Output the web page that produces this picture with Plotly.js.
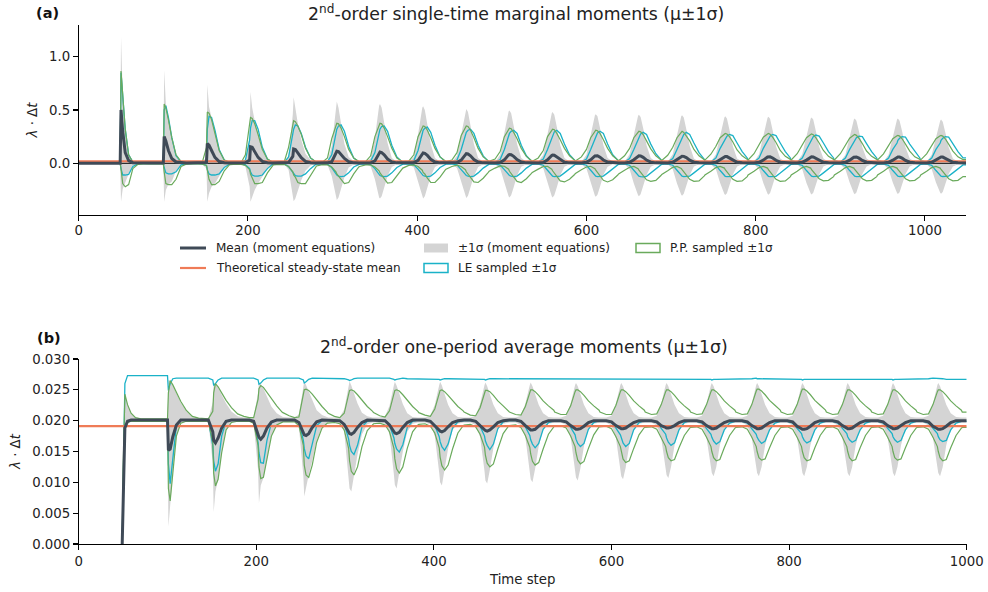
<!DOCTYPE html>
<html><head><meta charset="utf-8">
<script src="https://cdn.plot.ly/plotly-3.0.1.min.js"></script>
<style>html,body{margin:0;padding:0;background:#fff}#chart{width:988px;height:592px}</style>
</head><body><div id="chart"></div>
<script>
// ---------------- data ----------------
// stimulus onsets (time steps) and the sample offsets (steps) around each onset
const onsets = [50,101,152,203,254,305,356,407,458,509,560,611,662,713,764,815,866,917,968,1019];
const offsets = [-24,-17,-11,-6,-1,0,2,5,9,14,20,26];
const steadyStateMean = 0.0191;
const xTicks = [0,200,400,600,800,1000];
const aYTicks = [0,0.5,1.0];
const aYTickText = ['0.0','0.5','1.0'];
const bYTicks = [0,0.005,0.01,0.015,0.02,0.025,0.03];
const bYTickText = ['0.000','0.005','0.010','0.015','0.020','0.025','0.030'];

// ---- panel (a): single-time marginal moments, one row per pulse ----
const aMean = [
[0,0,0,0,0,.50,.30,.10,.025,.006,.003,.003],
[.003,.003,.003,.003,.003,.25,.21,.12,.045,.012,.004,.003],
[.003,.003,.003,.003,.008,.185,.17,.12,.055,.016,.005,.003],
[.003,.003,.003,.004,.03,.155,.15,.11,.055,.018,.005,.003],
[.003,.003,.003,.007,.065,.135,.13,.10,.052,.018,.005,.003],
[.003,.003,.004,.014,.09,.113,.11,.085,.045,.015,.004,.003],
[.003,.003,.005,.022,.094,.105,.10,.08,.04,.013,.004,.003],
[.003,.003,.006,.027,.09,.097,.093,.074,.038,.012,.004,.003],
[.003,.003,.007,.03,.085,.09,.087,.07,.036,.012,.004,.003],
[.003,.003,.008,.032,.079,.083,.081,.065,.034,.012,.004,.003],
[.003,.003,.008,.033,.073,.077,.075,.06,.032,.011,.004,.003],
[.003,.003,.009,.033,.069,.072,.071,.057,.031,.011,.004,.003],
[.003,.003,.009,.033,.067,.07,.069,.056,.03,.011,.004,.003],
[.003,.003,.009,.032,.063,.066,.065,.053,.029,.01,.004,.003],
[.003,.003,.009,.031,.061,.064,.063,.051,.028,.01,.004,.003],
[.003,.003,.009,.03,.059,.062,.061,.05,.028,.01,.004,.003],
[.003,.003,.009,.03,.058,.061,.06,.049,.027,.01,.004,.003],
[.003,.003,.009,.029,.057,.06,.059,.048,.027,.01,.004,.003],
[.003,.003,.009,.029,.056,.059,.058,.048,.027,.01,.004,.003],
[.003,.003,.009,.029,.056,.059,.058,.047,.026,.01,.004,.003]];
const aSigmaUp = [
[0,0,0,0,0,1.19,.66,.33,.09,.02,.01,.01],
[.01,.01,.01,.01,.01,.875,.56,.42,.24,.08,.02,.01],
[.01,.01,.01,.01,.06,.74,.53,.42,.28,.12,.035,.012],
[.012,.01,.01,.02,.25,.67,.52,.40,.27,.12,.04,.012],
[.012,.01,.012,.06,.46,.62,.50,.37,.22,.09,.03,.012],
[.012,.01,.02,.16,.54,.58,.52,.36,.18,.06,.02,.01],
[.01,.012,.05,.24,.54,.555,.52,.38,.19,.05,.015,.01],
[.01,.012,.06,.27,.52,.535,.50,.37,.18,.05,.015,.01],
[.01,.012,.07,.28,.50,.51,.48,.36,.18,.05,.015,.01],
[.01,.013,.08,.29,.485,.495,.47,.35,.18,.05,.015,.01],
[.01,.014,.08,.29,.47,.48,.455,.34,.17,.05,.015,.01],
[.01,.014,.08,.28,.45,.46,.44,.33,.17,.05,.015,.01],
[.01,.015,.085,.28,.445,.455,.435,.33,.17,.05,.015,.01],
[.01,.015,.085,.28,.44,.45,.43,.32,.165,.045,.015,.01],
[.01,.015,.085,.27,.43,.44,.42,.315,.16,.045,.015,.01],
[.01,.015,.085,.27,.427,.437,.417,.31,.16,.045,.015,.01],
[.01,.015,.085,.265,.42,.43,.41,.305,.155,.045,.015,.01],
[.01,.015,.08,.26,.41,.42,.40,.30,.15,.045,.015,.01],
[.01,.015,.08,.26,.41,.42,.40,.30,.15,.045,.015,.01],
[.01,.015,.08,.255,.40,.41,.39,.29,.15,.045,.015,.01]];
const aSigmaLo = [
[0,0,0,0,0,-.36,-.24,-.18,-.1,-.025,-.01,-.01],
[-.01,-.01,-.01,-.01,-.01,-.36,-.25,-.2,-.17,-.07,-.015,-.01],
[-.01,-.01,-.01,-.01,-.05,-.36,-.28,-.22,-.19,-.12,-.04,-.01],
[-.01,-.01,-.01,-.03,-.22,-.36,-.32,-.25,-.19,-.12,-.05,-.012],
[-.012,-.01,-.01,-.06,-.31,-.355,-.33,-.25,-.16,-.07,-.02,-.01],
[-.01,-.01,-.015,-.12,-.33,-.344,-.32,-.24,-.13,-.04,-.012,-.01],
[-.01,-.01,-.03,-.15,-.32,-.33,-.31,-.23,-.12,-.035,-.01,-.008],
[-.008,-.01,-.04,-.17,-.32,-.33,-.31,-.23,-.12,-.035,-.01,-.008],
[-.008,-.01,-.045,-.18,-.315,-.325,-.305,-.23,-.12,-.035,-.01,-.008],
[-.008,-.01,-.05,-.185,-.31,-.32,-.30,-.225,-.115,-.033,-.01,-.008],
[-.008,-.01,-.05,-.19,-.31,-.32,-.30,-.225,-.115,-.033,-.01,-.008],
[-.008,-.01,-.05,-.19,-.305,-.315,-.295,-.22,-.11,-.032,-.01,-.008],
[-.008,-.01,-.055,-.19,-.30,-.31,-.29,-.22,-.11,-.032,-.01,-.008],
[-.008,-.01,-.055,-.19,-.295,-.305,-.285,-.215,-.11,-.03,-.01,-.008],
[-.008,-.01,-.055,-.185,-.288,-.297,-.28,-.21,-.105,-.03,-.01,-.008],
[-.008,-.01,-.055,-.185,-.286,-.295,-.278,-.21,-.105,-.03,-.01,-.008],
[-.008,-.01,-.055,-.185,-.284,-.293,-.276,-.208,-.105,-.03,-.01,-.008],
[-.008,-.01,-.055,-.18,-.28,-.29,-.273,-.205,-.1,-.03,-.01,-.008],
[-.008,-.01,-.055,-.18,-.279,-.288,-.272,-.205,-.1,-.03,-.01,-.008],
[-.008,-.01,-.055,-.18,-.276,-.285,-.27,-.2,-.1,-.03,-.01,-.008]];
const aPPUp = [
[0,0,0,0,0,.865,.62,.32,.08,.012,.005,.005],
[.005,.005,.005,.005,.005,.555,.52,.41,.24,.08,.015,.005],
[.005,.005,.005,.008,.15,.48,.47,.41,.28,.12,.03,.006],
[.006,.006,.008,.08,.41,.43,.42,.37,.27,.13,.04,.01],
[.008,.008,.018,.15,.39,.40,.39,.35,.27,.14,.05,.015],
[.01,.01,.05,.23,.37,.375,.37,.33,.25,.13,.05,.015],
[.012,.015,.07,.25,.37,.375,.37,.33,.25,.14,.05,.02],
[.015,.02,.08,.25,.345,.35,.345,.31,.24,.14,.06,.02],
[.016,.03,.10,.26,.345,.35,.345,.31,.24,.14,.06,.025],
[.018,.04,.11,.25,.325,.33,.325,.29,.23,.14,.065,.025],
[.02,.05,.12,.25,.315,.32,.315,.28,.22,.14,.07,.03],
[.022,.06,.13,.24,.305,.31,.305,.28,.22,.14,.07,.03],
[.025,.07,.14,.24,.295,.30,.295,.27,.21,.135,.07,.03],
[.027,.075,.15,.24,.295,.30,.29,.26,.21,.13,.07,.035],
[.03,.085,.16,.24,.275,.28,.275,.25,.20,.125,.07,.035],
[.032,.09,.17,.245,.275,.28,.272,.245,.195,.12,.065,.035],
[.032,.09,.165,.24,.27,.275,.268,.24,.19,.12,.065,.035],
[.032,.09,.165,.235,.265,.27,.262,.235,.185,.115,.065,.035],
[.032,.088,.16,.23,.258,.262,.255,.23,.18,.115,.06,.035],
[.032,.088,.16,.23,.258,.262,.255,.23,.18,.115,.06,.035]];
const aPPLo = [
[0,0,0,0,0,-.05,-.19,-.22,-.2,-.05,-.01,-.005],
[-.005,-.005,-.005,-.005,-.005,-.08,-.19,-.2,-.2,-.15,-.03,-.008],
[-.007,-.006,-.006,-.008,-.02,-.08,-.15,-.2,-.2,-.17,-.07,-.015],
[-.012,-.008,-.01,-.02,-.06,-.1,-.14,-.19,-.19,-.18,-.09,-.02],
[-.015,-.01,-.012,-.03,-.08,-.11,-.13,-.18,-.19,-.19,-.11,-.03],
[-.025,-.012,-.015,-.035,-.08,-.1,-.12,-.16,-.19,-.18,-.1,-.035],
[-.03,-.015,-.015,-.035,-.07,-.09,-.11,-.15,-.185,-.18,-.12,-.05],
[-.045,-.02,-.015,-.03,-.065,-.085,-.1,-.14,-.18,-.18,-.13,-.065],
[-.055,-.03,-.018,-.03,-.06,-.08,-.1,-.135,-.175,-.18,-.14,-.085],
[-.075,-.045,-.025,-.028,-.055,-.075,-.095,-.13,-.17,-.18,-.145,-.095],
[-.085,-.055,-.03,-.028,-.055,-.07,-.09,-.125,-.165,-.175,-.15,-.105],
[-.095,-.06,-.035,-.028,-.05,-.065,-.085,-.12,-.16,-.175,-.155,-.11],
[-.1,-.065,-.037,-.03,-.05,-.065,-.085,-.115,-.155,-.17,-.16,-.115],
[-.105,-.07,-.038,-.03,-.048,-.06,-.08,-.11,-.15,-.17,-.165,-.12],
[-.11,-.075,-.04,-.03,-.045,-.06,-.08,-.11,-.15,-.17,-.165,-.125],
[-.11,-.075,-.04,-.03,-.045,-.06,-.08,-.11,-.15,-.17,-.165,-.125],
[-.11,-.075,-.04,-.03,-.045,-.06,-.08,-.105,-.145,-.165,-.16,-.125],
[-.11,-.075,-.04,-.03,-.045,-.058,-.078,-.105,-.145,-.165,-.16,-.125],
[-.11,-.075,-.04,-.03,-.045,-.058,-.078,-.105,-.145,-.165,-.16,-.125],
[-.11,-.075,-.04,-.03,-.045,-.058,-.078,-.105,-.145,-.165,-.16,-.125]];
const aLEUp = [
[0,0,0,0,0,.85,.62,.32,.08,.012,.005,.003],
[.003,.003,.003,.003,.003,.50,.54,.43,.24,.07,.012,.004],
[.004,.003,.003,.004,.03,.32,.44,.43,.31,.13,.03,.006],
[.005,.004,.006,.03,.22,.33,.40,.40,.32,.15,.04,.01],
[.006,.005,.01,.06,.26,.32,.36,.35,.28,.15,.05,.012],
[.008,.006,.015,.08,.28,.32,.35,.36,.30,.16,.05,.015],
[.008,.007,.02,.10,.28,.32,.345,.35,.30,.17,.06,.015],
[.008,.008,.025,.12,.27,.31,.33,.34,.29,.17,.06,.02],
[.01,.01,.03,.13,.26,.29,.31,.32,.28,.17,.07,.02],
[.01,.01,.035,.13,.25,.28,.30,.31,.28,.17,.07,.025],
[.012,.012,.04,.13,.24,.27,.295,.31,.28,.18,.08,.03],
[.015,.012,.04,.13,.23,.26,.285,.30,.28,.18,.08,.03],
[.015,.012,.045,.13,.22,.25,.275,.29,.27,.18,.09,.035],
[.018,.012,.045,.13,.22,.245,.27,.29,.27,.19,.10,.04],
[.02,.012,.05,.14,.21,.235,.255,.27,.26,.19,.11,.05],
[.025,.012,.05,.14,.21,.235,.255,.27,.26,.19,.11,.05],
[.025,.012,.05,.13,.20,.225,.25,.265,.255,.19,.11,.05],
[.025,.012,.05,.13,.20,.22,.24,.255,.25,.185,.11,.05],
[.025,.012,.05,.13,.19,.215,.235,.25,.245,.18,.11,.05],
[.025,.012,.05,.13,.19,.215,.235,.25,.245,.18,.11,.05]];
const aLELo = [
[0,0,0,0,0,-.05,-.11,-.11,-.105,-.03,-.006,-.003],
[-.003,-.003,-.003,-.003,-.003,-.04,-.09,-.10,-.10,-.08,-.015,-.005],
[-.004,-.003,-.003,-.005,-.02,-.06,-.1,-.11,-.11,-.1,-.04,-.008],
[-.005,-.004,-.005,-.015,-.05,-.08,-.11,-.12,-.12,-.11,-.05,-.01],
[-.006,-.005,-.006,-.03,-.08,-.1,-.115,-.12,-.12,-.1,-.05,-.012],
[-.007,-.006,-.008,-.04,-.1,-.11,-.12,-.125,-.12,-.09,-.035,-.012],
[-.008,-.006,-.012,-.05,-.105,-.115,-.12,-.125,-.12,-.09,-.04,-.012],
[-.008,-.006,-.015,-.055,-.105,-.115,-.12,-.125,-.12,-.09,-.04,-.013],
[-.008,-.006,-.015,-.06,-.11,-.115,-.12,-.125,-.12,-.09,-.045,-.014],
[-.008,-.006,-.016,-.06,-.11,-.115,-.12,-.125,-.12,-.09,-.045,-.015],
[-.009,-.006,-.018,-.065,-.11,-.12,-.125,-.125,-.12,-.09,-.05,-.015],
[-.009,-.006,-.018,-.065,-.11,-.12,-.125,-.125,-.12,-.09,-.05,-.015],
[-.009,-.006,-.018,-.065,-.11,-.12,-.125,-.128,-.122,-.092,-.05,-.015],
[-.009,-.006,-.018,-.065,-.11,-.12,-.125,-.125,-.12,-.09,-.05,-.015],
[-.009,-.006,-.02,-.068,-.112,-.122,-.125,-.126,-.122,-.092,-.052,-.016],
[-.009,-.006,-.02,-.068,-.112,-.122,-.125,-.126,-.122,-.092,-.052,-.016],
[-.009,-.006,-.02,-.068,-.11,-.12,-.125,-.125,-.12,-.09,-.05,-.015],
[-.009,-.006,-.02,-.068,-.11,-.12,-.125,-.126,-.122,-.092,-.052,-.016],
[-.009,-.006,-.02,-.068,-.11,-.12,-.124,-.125,-.12,-.09,-.05,-.015],
[-.009,-.006,-.02,-.068,-.11,-.12,-.124,-.125,-.12,-.09,-.05,-.015]];

// ---- panel (b): one-period average moments, one row per pulse ----
const bMean = [
[0,0,0,0,0,.008,.0188,.0199,.0201,.0201,.0201,.0201],
[.0201,.0201,.0201,.0201,.0201,.0152,.0154,.0174,.0193,.0201,.0201,.0201],
[.0201,.0201,.0201,.0201,.0182,.0168,.0164,.0172,.0188,.0199,.0201,.0201],
[.0201,.0201,.0201,.0199,.018,.0173,.017,.0175,.0188,.0198,.0201,.0201],
[.0201,.0201,.0201,.0197,.0181,.0177,.0176,.0179,.0189,.0198,.0201,.0201],
[.0201,.0201,.02,.0194,.0182,.0179,.0178,.0181,.0189,.0197,.0201,.0201],
[.0201,.0201,.02,.0193,.0182,.018,.0179,.0181,.0189,.0197,.0201,.0201],
[.0201,.0201,.0199,.0192,.0184,.0183,.0182,.0184,.019,.0197,.02,.0201],
[.0201,.0201,.0199,.0192,.0185,.0184,.0183,.0185,.019,.0197,.02,.0201],
[.0201,.0201,.0199,.0192,.0186,.0185,.0185,.0186,.0191,.0197,.02,.0201],
[.02,.02,.0198,.0192,.0187,.0186,.0186,.0187,.0191,.0197,.02,.02],
[.02,.02,.0198,.0192,.0188,.0187,.0187,.0188,.0192,.0197,.02,.02],
[.02,.02,.0198,.0192,.0189,.0188,.0188,.0189,.0192,.0197,.02,.02],
[.02,.02,.0198,.0192,.0188,.0187,.0187,.0188,.0192,.0197,.02,.02],
[.02,.02,.0198,.0192,.0188,.0187,.0187,.0188,.0192,.0197,.02,.02],
[.02,.02,.0198,.0191,.0187,.0186,.0186,.0187,.0191,.0197,.02,.02],
[.02,.02,.0198,.0192,.0188,.0187,.0187,.0188,.0192,.0197,.02,.02],
[.02,.02,.0198,.0192,.0188,.0187,.0187,.0188,.0192,.0197,.02,.02],
[.02,.02,.0198,.0191,.0187,.0186,.0186,.0187,.0191,.0197,.02,.02],
[.02,.02,.0198,.0192,.0188,.0187,.0187,.0188,.0192,.0197,.02,.02]];
const bSigmaUp = [
[0,0,0,0,0,.012,.0243,.0226,.0212,.0205,.0203,.0203],
[.0203,.0203,.0203,.0203,.0203,.0266,.0264,.0257,.0244,.0229,.0216,.0207],
[.0206,.0204,.0203,.0203,.023,.0262,.026,.0254,.0242,.0228,.0215,.0208],
[.0207,.0205,.0204,.0206,.0245,.0262,.026,.0252,.0238,.0223,.0212,.0206],
[.0206,.0205,.0205,.021,.0252,.0264,.0258,.0248,.0232,.0217,.0209,.0205],
[.0205,.0205,.0206,.0218,.0256,.0264,.0257,.0245,.0228,.0213,.0207,.0205],
[.0205,.0205,.0207,.0224,.0258,.0263,.0257,.0245,.0227,.0212,.0206,.0205],
[.0205,.0205,.0208,.0226,.0258,.0263,.0257,.0244,.0226,.0212,.0206,.0205],
[.0205,.0205,.0208,.0227,.0258,.0262,.0256,.0244,.0226,.0212,.0206,.0205],
[.0205,.0205,.0208,.0228,.0258,.0262,.0256,.0244,.0226,.0212,.0206,.0205],
[.0205,.0205,.0208,.0228,.0258,.0261,.0256,.0244,.0226,.0212,.0206,.0205],
[.0205,.0205,.0208,.0228,.0258,.0261,.0256,.0244,.0226,.0212,.0206,.0205],
[.0205,.0205,.0208,.0228,.0258,.0261,.0256,.0244,.0226,.0212,.0206,.0205],
[.0205,.0205,.0208,.0228,.0258,.0261,.0256,.0244,.0226,.0212,.0206,.0205],
[.0205,.0205,.0208,.0228,.0258,.0261,.0256,.0244,.0226,.0212,.0206,.0205],
[.0205,.0205,.0208,.0228,.0258,.0261,.0256,.0244,.0226,.0212,.0206,.0205],
[.0205,.0205,.0208,.0228,.0258,.0261,.0256,.0244,.0226,.0212,.0206,.0205],
[.0205,.0205,.0208,.0228,.0258,.0261,.0256,.0244,.0226,.0212,.0206,.0205],
[.0205,.0205,.0208,.0228,.0258,.0261,.0256,.0244,.0226,.0212,.0206,.0205],
[.0205,.0205,.0208,.0228,.0258,.0261,.0256,.0244,.0226,.0212,.0206,.0205]];
const bSigmaLo = [
[0,0,0,0,0,.008,.0188,.0197,.0199,.0199,.0199,.0199],
[.0199,.0199,.0199,.0199,.0199,.0028,.0068,.0113,.0174,.0196,.0199,.0199],
[.0199,.0199,.0199,.0199,.013,.0052,.0085,.0105,.0148,.0185,.0197,.0199],
[.0199,.0199,.0199,.0196,.012,.0066,.0095,.0107,.0138,.0175,.0193,.0198],
[.0198,.0198,.0198,.019,.011,.0077,.0092,.0112,.0135,.0168,.019,.0197],
[.0197,.0197,.0196,.0182,.0108,.009,.0085,.0112,.0145,.0178,.0194,.0197],
[.0197,.0197,.0195,.0178,.0112,.0096,.009,.0115,.015,.0182,.0195,.0197],
[.0197,.0197,.0194,.0175,.0115,.01,.0095,.0118,.0155,.0185,.0195,.0197],
[.0197,.0197,.0193,.0174,.0118,.0103,.0098,.012,.0156,.0186,.0195,.0197],
[.0197,.0197,.0193,.0173,.012,.0105,.01,.0122,.0158,.0186,.0195,.0197],
[.0197,.0197,.0193,.0173,.0122,.0108,.0103,.0123,.0159,.0187,.0195,.0197],
[.0197,.0197,.0192,.0172,.0124,.011,.0105,.0124,.016,.0187,.0195,.0197],
[.0197,.0197,.0192,.0172,.0126,.0112,.0107,.0125,.016,.0187,.0195,.0197],
[.0197,.0197,.0192,.0172,.0128,.0115,.011,.0125,.016,.0187,.0195,.0197],
[.0197,.0197,.0192,.0172,.0128,.0115,.011,.0125,.016,.0187,.0195,.0197],
[.0197,.0197,.0192,.0172,.0128,.0115,.011,.0125,.016,.0187,.0195,.0197],
[.0197,.0197,.0192,.0172,.0128,.0115,.011,.0125,.016,.0187,.0195,.0197],
[.0197,.0197,.0192,.0172,.0128,.0115,.011,.0125,.016,.0187,.0195,.0197],
[.0197,.0197,.0192,.0172,.0128,.0115,.011,.0125,.016,.0187,.0195,.0197],
[.0197,.0197,.0192,.0172,.0128,.0115,.011,.0125,.016,.0187,.0195,.0197]];
const bPPUp = [
[0,0,0,0,0,.012,.0243,.0226,.0212,.0205,.0203,.0203],
[.0203,.0203,.0203,.0203,.0203,.0245,.0265,.0258,.0245,.0231,.0217,.0208],
[.0207,.0204,.0203,.0203,.0215,.0245,.026,.0255,.0245,.0233,.0221,.0212],
[.0211,.0207,.0205,.0205,.0235,.0252,.0257,.0254,.0246,.0235,.0224,.0214],
[.0213,.0208,.0205,.0206,.0243,.025,.0251,.0249,.0243,.0233,.0223,.0214],
[.0212,.0207,.0205,.0212,.0244,.0249,.025,.0248,.0242,.0233,.0223,.0215],
[.0213,.0208,.0206,.0216,.0245,.0249,.025,.0248,.0242,.0233,.0223,.0215],
[.0213,.0209,.0207,.0219,.0246,.0249,.025,.0247,.0241,.0232,.0223,.0216],
[.0214,.0209,.0208,.0221,.0246,.0249,.0249,.0247,.0241,.0232,.0224,.0216],
[.0214,.021,.0209,.0223,.0247,.025,.025,.0247,.0241,.0232,.0224,.0217],
[.0214,.021,.021,.0224,.0247,.025,.025,.0247,.0241,.0232,.0224,.0217],
[.0214,.021,.021,.0225,.0247,.025,.025,.0247,.0241,.0232,.0224,.0217],
[.0214,.021,.0211,.0226,.0247,.025,.025,.0247,.0241,.0232,.0224,.0217],
[.0214,.021,.0211,.0226,.0247,.025,.025,.0247,.0241,.0232,.0224,.0217],
[.0214,.021,.0211,.0226,.0248,.0251,.0251,.0248,.0242,.0233,.0225,.0217],
[.0214,.021,.0211,.0226,.0248,.0251,.0251,.0248,.0242,.0233,.0225,.0217],
[.0214,.021,.0211,.0226,.0247,.025,.025,.0247,.0241,.0232,.0224,.0217],
[.0214,.021,.0211,.0226,.0247,.025,.025,.0247,.0241,.0232,.0224,.0217],
[.0214,.021,.0211,.0226,.0247,.025,.025,.0247,.0241,.0232,.0224,.0217],
[.0214,.021,.0211,.0226,.0247,.025,.025,.0247,.0241,.0232,.0224,.0217]];
const bPPLo = [
[0,0,0,0,0,.008,.0188,.0197,.0199,.0199,.0199,.0199],
[.0199,.0199,.0199,.0199,.0199,.009,.007,.0115,.0175,.0196,.0199,.0199],
[.0199,.0199,.0199,.0199,.0165,.0115,.0094,.0105,.0148,.0185,.0197,.0199],
[.0199,.0199,.0199,.0196,.016,.0125,.0106,.0108,.0138,.0175,.0193,.0198],
[.0198,.0198,.0198,.0192,.016,.0128,.0112,.0108,.0128,.0165,.0188,.0196],
[.0196,.0197,.0195,.0185,.0155,.0135,.0118,.0112,.0125,.0158,.0184,.0194],
[.0195,.0196,.0193,.0182,.0155,.0138,.0122,.0115,.0125,.0155,.0182,.0193],
[.0194,.0195,.0191,.018,.0156,.0141,.0127,.012,.0128,.0154,.018,.0192],
[.0193,.0194,.019,.0178,.0157,.0144,.0131,.0125,.013,.0154,.0179,.0191],
[.0192,.0193,.0189,.0176,.0157,.0146,.0134,.0128,.0132,.0154,.0178,.019],
[.0191,.0192,.0188,.0175,.0158,.0148,.0136,.013,.0134,.0155,.0177,.019],
[.019,.0191,.0187,.0174,.0158,.0149,.0138,.0132,.0135,.0155,.0177,.0189],
[.0189,.019,.0186,.0173,.0158,.015,.014,.0135,.0137,.0156,.0176,.0188],
[.0189,.019,.0186,.0173,.0158,.015,.014,.0135,.0137,.0156,.0176,.0188],
[.0189,.019,.0186,.0173,.0158,.015,.014,.0136,.0138,.0156,.0176,.0188],
[.0189,.019,.0186,.0173,.0158,.015,.014,.0135,.0137,.0156,.0176,.0188],
[.0189,.019,.0186,.0173,.0158,.015,.014,.0135,.0137,.0156,.0176,.0188],
[.0189,.019,.0186,.0173,.0158,.015,.014,.0136,.0138,.0156,.0176,.0188],
[.0189,.019,.0186,.0173,.0158,.015,.014,.0135,.0137,.0156,.0176,.0188],
[.0189,.019,.0186,.0173,.0158,.015,.014,.0135,.0137,.0156,.0176,.0188]];
const bLEUp = [
[0,0,0,0,0,.012,.026,.0273,.0273,.0273,.0273,.0273],
[.0273,.0273,.0273,.0273,.0273,.0249,.026,.0268,.0269,.0269,.0269,.0269],
[.0269,.0269,.0269,.0269,.0266,.0257,.026,.0266,.0269,.0269,.0269,.0269],
[.0269,.0269,.0269,.0269,.0266,.0259,.0261,.0266,.0269,.0269,.0269,.0269],
[.0269,.0269,.0269,.0269,.0266,.0261,.0263,.0267,.0269,.0269,.0269,.0269],
[.0269,.0269,.0269,.0268,.0266,.0265,.0266,.0268,.0269,.0269,.0269,.0269],
[.0269,.0269,.0269,.0269,.0267,.0266,.0267,.0268,.0269,.0268,.0268,.0268],
[.0268,.0268,.0268,.0268,.0267,.0266,.0267,.0268,.0268,.0268,.0268,.0268],
[.0268,.0268,.0268,.0268,.0267,.0266,.0267,.0268,.0268,.0268,.0267,.0267],
[.0268,.0268,.0268,.0268,.0267,.0267,.0268,.0268,.0268,.0268,.0267,.0267],
[.0267,.0268,.0268,.0268,.0267,.0267,.0268,.0268,.0268,.0267,.0267,.0267],
[.0267,.0267,.0268,.0268,.0267,.0267,.0267,.0268,.0268,.0267,.0267,.0267],
[.0267,.0267,.0267,.0268,.0267,.0267,.0267,.0267,.0268,.0267,.0267,.0267],
[.0267,.0267,.0267,.0267,.0267,.0266,.0267,.0267,.0267,.0267,.0267,.0267],
[.0267,.0267,.0268,.0268,.0269,.0268,.0268,.0268,.0267,.0267,.0267,.0267],
[.0267,.0267,.0267,.0267,.0267,.0266,.0267,.0267,.0267,.0267,.0267,.0267],
[.0267,.0267,.0267,.0267,.0267,.0267,.0267,.0268,.0268,.0267,.0267,.0267],
[.0267,.0267,.0267,.0267,.0267,.0266,.0267,.0267,.0267,.0267,.0267,.0267],
[.0267,.0267,.0268,.0269,.0269,.0268,.0268,.0268,.0267,.0267,.0267,.0267],
[.0267,.0267,.0267,.0267,.0267,.0267,.0267,.0267,.0267,.0267,.0267,.0267]];
const bLELo = [
[0,0,0,0,0,.008,.0188,.0199,.0201,.0201,.0201,.0201],
[.0201,.0201,.0201,.0201,.0199,.013,.0098,.014,.0192,.0201,.0201,.0201],
[.0201,.0201,.0201,.0201,.016,.0135,.0118,.013,.0175,.0199,.0201,.0201],
[.0201,.0201,.0201,.0199,.0165,.0148,.0132,.0131,.0168,.0196,.0201,.0201],
[.0201,.0201,.0201,.0197,.0168,.0155,.0143,.0138,.016,.0192,.02,.0201],
[.0201,.0201,.02,.0195,.017,.016,.015,.0145,.016,.019,.0199,.0201],
[.0201,.0201,.02,.0193,.0172,.0163,.0154,.0149,.0161,.0189,.0199,.0201],
[.0201,.0201,.0199,.0192,.0174,.0166,.0158,.0152,.0162,.0188,.0198,.02],
[.02,.02,.0199,.0191,.0175,.0167,.016,.0153,.0162,.0187,.0198,.02],
[.02,.02,.0198,.019,.0176,.0169,.0162,.0156,.0163,.0186,.0197,.02],
[.02,.02,.0198,.0189,.0177,.017,.0163,.0158,.0163,.0186,.0197,.02],
[.02,.02,.0197,.0188,.0177,.0171,.0164,.0158,.0163,.0185,.0197,.02],
[.02,.02,.0197,.0188,.0178,.0172,.0165,.016,.0164,.0185,.0197,.02],
[.0199,.0199,.0196,.0187,.0178,.0173,.0167,.0162,.0166,.0185,.0196,.0199],
[.0199,.0199,.0196,.0187,.0178,.0173,.0168,.0163,.0167,.0185,.0196,.0199],
[.0199,.0199,.0196,.0187,.0179,.0174,.0168,.0164,.0167,.0185,.0196,.0199],
[.0199,.0199,.0196,.0187,.0179,.0174,.0169,.0165,.0168,.0185,.0196,.0199],
[.0199,.0199,.0196,.0187,.0179,.0174,.0169,.0165,.0168,.0185,.0196,.0199],
[.0199,.0199,.0196,.0187,.0179,.0174,.0169,.0166,.0168,.0185,.0196,.0199],
[.0199,.0199,.0196,.0187,.0179,.0174,.0169,.0166,.0168,.0185,.0196,.0199]];

// ---------------- building the traces ----------------
const C = {mean:'#3f4a57', steady:'#ef7b57', le:'#1ab2c8', pp:'#6aaa5c', sigma:'#d4d4d4', zero:'#000000'};
const FONT = 'DejaVu Sans, Liberation Sans, sans-serif';

function series(rows, xFrom, xTo){
  const xs=[], ys=[];
  rows.forEach((row,k)=>row.forEach((v,j)=>{
    const t = onsets[k]+offsets[j];
    if(t>=xFrom && t<=xTo){ xs.push(t); ys.push(v); }
  }));
  if(xs[0]>xFrom){ xs.unshift(xFrom); ys.unshift(ys[0]); }
  if(xs[xs.length-1]<xTo){ xs.push(xTo); ys.push(ys[ys.length-1]); }
  return {x:xs, y:ys};
}
function line(s, color, width, xa, ya){
  return {type:'scatter', mode:'lines', x:s.x, y:s.y, xaxis:xa, yaxis:ya,
    line:{color:color, width:width}, hoverinfo:'skip', showlegend:false};
}
function band(lo, up, xa, ya){
  return [
    {type:'scatter', mode:'lines', x:lo.x, y:lo.y, xaxis:xa, yaxis:ya, line:{width:0, color:C.sigma}, hoverinfo:'skip', showlegend:false},
    {type:'scatter', mode:'lines', x:up.x, y:up.y, xaxis:xa, yaxis:ya, line:{width:0, color:C.sigma}, fill:'tonexty', fillcolor:C.sigma, hoverinfo:'skip', showlegend:false}
  ];
}
const aEnd = 1049, bStart = 49, bEnd = 1000;
const traces = [];
// panel (a)
traces.push(...band(series(aSigmaLo,0,aEnd), series(aSigmaUp,0,aEnd), 'x','y'));
traces.push(line({x:[0,aEnd], y:[0,0]}, C.zero, 1, 'x','y'));
traces.push(line(series(aLEUp,0,aEnd), C.le, 1.3, 'x','y'));
traces.push(line(series(aLELo,0,aEnd), C.le, 1.3, 'x','y'));
traces.push(line(series(aPPUp,0,aEnd), C.pp, 1.2, 'x','y'));
traces.push(line(series(aPPLo,0,aEnd), C.pp, 1.2, 'x','y'));
traces.push(line({x:[0,aEnd], y:[steadyStateMean,steadyStateMean]}, C.steady, 2.2, 'x','y'));
traces.push(line(series(aMean,0,aEnd), C.mean, 3, 'x','y'));
// panel (b)
traces.push(...band(series(bSigmaLo,bStart,bEnd), series(bSigmaUp,bStart,bEnd), 'x2','y2'));
traces.push(line(series(bLEUp,bStart,bEnd), C.le, 1.3, 'x2','y2'));
traces.push(line(series(bLELo,bStart,bEnd), C.le, 1.3, 'x2','y2'));
traces.push(line(series(bPPUp,bStart,bEnd), C.pp, 1.2, 'x2','y2'));
traces.push(line(series(bPPLo,bStart,bEnd), C.pp, 1.2, 'x2','y2'));
traces.push(line({x:[0,bEnd], y:[steadyStateMean,steadyStateMean]}, C.steady, 2.2, 'x2','y2'));
traces.push(line(series(bMean,bStart,bEnd), C.mean, 3, 'x2','y2'));

// ---------------- layout ----------------
const W=988, H=592;
const px = v=>v/W, py = v=>1-v/H;
const axisCommon = {showline:true, linecolor:'#000', linewidth:1.07, ticks:'outside', ticklen:4.7, tickwidth:1.07,
  tickcolor:'#000', showgrid:false, zeroline:false, tickfont:{family:FONT, size:13.3, color:'#222'}, fixedrange:true};
const legendItems = [
  {kind:'line', color:C.mean, w:3, x:180, y:248, text:'Mean (moment equations)'},
  {kind:'line', color:C.steady, w:2.2, x:180, y:268, text:'Theoretical steady-state mean'},
  {kind:'fill', color:C.sigma, x:424, y:248, text:'±1σ (moment equations)'},
  {kind:'box', color:C.le, x:424, y:268, text:'LE sampled ±1σ'},
  {kind:'box', color:C.pp, x:636, y:248, text:'P.P. sampled ±1σ'}
];
const LEGFONT = 12;
const shapes=[], annotations=[];
legendItems.forEach(it=>{
  if(it.kind==='line'){
    shapes.push({type:'line', xref:'paper', yref:'paper', x0:px(it.x), x1:px(it.x+26), y0:py(it.y), y1:py(it.y), line:{color:it.color, width:it.w}});
    annotations.push({xref:'paper', yref:'paper', x:px(it.x+34), y:py(it.y), xanchor:'left', yanchor:'middle', showarrow:false, text:it.text, font:{family:FONT, size:LEGFONT, color:'#222'}});
  } else {
    shapes.push({type:'rect', xref:'paper', yref:'paper', x0:px(it.x), x1:px(it.x+24), y0:py(it.y+4.5), y1:py(it.y-4.5),
      fillcolor: it.kind==='fill'? it.color : 'rgba(0,0,0,0)', line:{color:it.color, width: it.kind==='fill'?0:1.5}});
    annotations.push({xref:'paper', yref:'paper', x:px(it.x+32), y:py(it.y), xanchor:'left', yanchor:'middle', showarrow:false, text:it.text, font:{family:FONT, size:LEGFONT, color:'#222'}});
  }
});
annotations.push({xref:'paper', yref:'paper', x:px(516), y:py(13), xanchor:'center', yanchor:'middle', showarrow:false,
  text:'2<sup>nd</sup>-order single-time marginal moments (μ±1σ)', font:{family:FONT, size:17.3, color:'#222'}});
annotations.push({xref:'paper', yref:'paper', x:px(524), y:py(346), xanchor:'center', yanchor:'middle', showarrow:false,
  text:'2<sup>nd</sup>-order one-period average moments (μ±1σ)', font:{family:FONT, size:17.3, color:'#222'}});
annotations.push({xref:'paper', yref:'paper', x:px(34), y:py(13), xanchor:'left', yanchor:'middle', showarrow:false,
  text:'<b>(a)</b>', font:{family:FONT, size:14.5, color:'#111'}});
annotations.push({xref:'paper', yref:'paper', x:px(35), y:py(338), xanchor:'left', yanchor:'middle', showarrow:false,
  text:'<b>(b)</b>', font:{family:FONT, size:14.5, color:'#111'}});

const layout = {
  width:W, height:H, margin:{l:0,r:0,t:0,b:0}, paper_bgcolor:'#fff', plot_bgcolor:'#fff', showlegend:false,
  font:{family:FONT, color:'#222'},
  xaxis:Object.assign({}, axisCommon, {domain:[px(78.7), px(966)], range:[0,1048.5], tickvals:xTicks, anchor:'y', ticklabelstandoff:-2}),
  yaxis:Object.assign({}, axisCommon, {domain:[py(215), py(25)], range:[-0.485,1.297], tickvals:aYTicks, ticktext:aYTickText, anchor:'x',
    title:{text:'<i>λ</i> · Δ<i>t</i>', font:{family:FONT, size:13.3, color:'#222'}, standoff:8}}),
  xaxis2:Object.assign({}, axisCommon, {domain:[px(78.7), px(966.7)], range:[0,1000], tickvals:xTicks, anchor:'y2',
    title:{text:'Time step', font:{family:FONT, size:13.3, color:'#222'}, standoff:6}}),
  yaxis2:Object.assign({}, axisCommon, {domain:[py(544), py(359)], range:[0,0.03], tickvals:bYTicks, ticktext:bYTickText, anchor:'x2',
    title:{text:'<i>λ</i> · Δ<i>t</i>', font:{family:FONT, size:13.3, color:'#222'}, standoff:8}}),
  shapes:shapes, annotations:annotations
};
Plotly.newPlot('chart', traces, layout, {staticPlot:true, displayModeBar:false});
</script></body></html>
